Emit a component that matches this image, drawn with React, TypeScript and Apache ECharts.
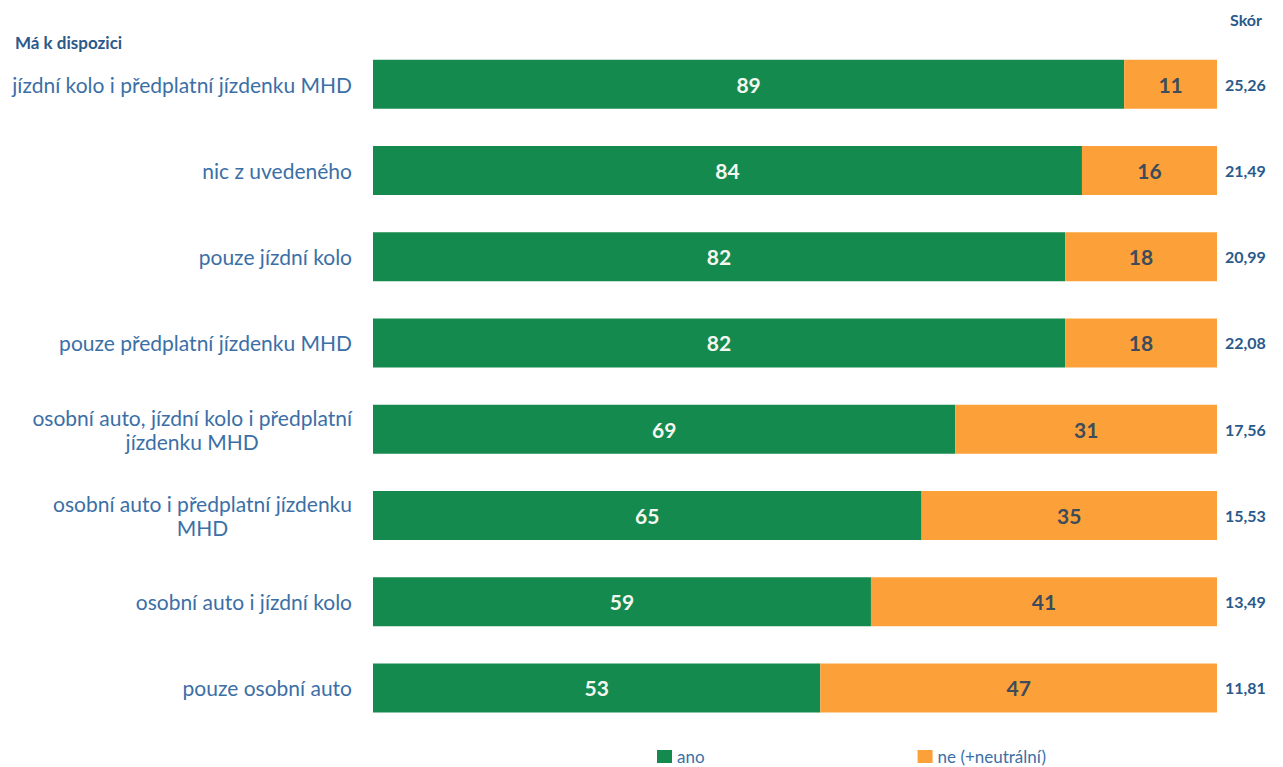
import React, { useEffect, useRef } from 'react';
import * as echarts from 'echarts';

const categories = [
  'jízdní kolo i předplatní jízdenku MHD',
  'nic z uvedeného',
  'pouze jízdní kolo',
  'pouze předplatní jízdenku MHD',
  'osobní auto, jízdní kolo i předplatní\njízdenku MHD',
  'osobní auto i předplatní jízdenku\nMHD',
  'osobní auto i jízdní kolo',
  'pouze osobní auto',
];
const anoValues = [89, 84, 82, 82, 69, 65, 59, 53];
const neValues = [11, 16, 18, 18, 31, 35, 41, 47];
const scoreLabels = ['25,26', '21,49', '20,99', '22,08', '17,56', '15,53', '13,49', '11,81'];
const seriesNames = ['ano', 'ne (+neutrální)'];
const headerLeft = 'Má k dispozici';
const headerRight = 'Skór';

const FONT = 'Lato, "Noto Sans", sans-serif';
const LABEL_SIZE = 21;
const LINE_HEIGHT = 24;
const LABEL_COLOR = '#3b6fa6';

function buildLabelRich() {
  const canvas = document.createElement('canvas');
  const ctx = canvas.getContext('2d')!;
  ctx.font = `${LABEL_SIZE}px Lato`;
  const rich: Record<string, any> = {
    t: { fontSize: LABEL_SIZE, color: LABEL_COLOR, fontFamily: FONT, lineHeight: LINE_HEIGHT },
  };
  const fmt: string[] = [];
  categories.forEach((c, idx) => {
    const lines = c.split('\n');
    if (lines.length === 1) {
      fmt.push(`{t|${c}}`);
      return;
    }
    const widths = lines.map((l) => ctx.measureText(l).width);
    const maxW = Math.max(...widths);
    const parts = lines.map((l, i) => {
      const key = `c${idx}l${i}`;
      rich[key] = {
        fontSize: LABEL_SIZE,
        color: LABEL_COLOR,
        fontFamily: FONT,
        lineHeight: LINE_HEIGHT,
        padding: [0, (maxW - widths[i]) / 2, 0, 0],
      };
      return `{${key}|${l}}`;
    });
    fmt.push(parts.join('\n'));
  });
  return { rich, fmt };
}

export default function App() {
  const ref = useRef<HTMLDivElement>(null);
  useEffect(() => {
    if (!ref.current) return;
    const chart = echarts.init(ref.current, null, { renderer: 'svg' });
    const { rich, fmt } = buildLabelRich();
    chart.setOption({
      animation: false,
      backgroundColor: '#ffffff',
      textStyle: { fontFamily: FONT },
      grid: { left: 373, right: 66, top: 41, height: 690, containLabel: false },
      legend: {
        data: seriesNames,
        left: 652,
        top: 743,
        itemGap: 213,
        itemWidth: 15,
        itemHeight: 13,
        icon: 'rect',
        textStyle: { fontSize: 17, color: LABEL_COLOR, fontFamily: FONT },
      },
      xAxis: { type: 'value', min: 0, max: 100, show: false },
      yAxis: [
        {
          type: 'category',
          data: categories,
          inverse: true,
          axisLine: { show: false },
          axisTick: { show: false },
          splitLine: { show: false },
          axisLabel: {
            margin: 21,
            formatter: (_v: string, i: number) => fmt[i],
            rich,
          },
        },
        {
          type: 'category',
          data: scoreLabels,
          inverse: true,
          position: 'right',
          axisLine: { show: false },
          axisTick: { show: false },
          splitLine: { show: false },
          axisLabel: {
            margin: 8,
            align: 'left',
            fontSize: 16,
            fontWeight: 'bold',
            color: '#2a5a8a',
            fontFamily: FONT,
          },
        },
      ],
      graphic: [
        {
          type: 'text',
          left: 15,
          top: 34,
          style: { text: headerLeft, fontSize: 17, fontWeight: 'bold', fill: '#2a5a8a', fontFamily: FONT },
        },
        {
          type: 'text',
          left: 1230,
          top: 11,
          style: { text: headerRight, fontSize: 16, fontWeight: 'bold', fill: '#2a5a8a', fontFamily: FONT },
        },
      ],
      series: [
        {
          name: seriesNames[0],
          type: 'bar',
          stack: 'total',
          yAxisIndex: 0,
          barWidth: 49,
          data: anoValues,
          itemStyle: { color: '#158a4e' },
          label: { show: true, position: 'inside', color: '#f4f7f0', fontSize: 21, fontWeight: 'bold', fontFamily: FONT },
        },
        {
          name: seriesNames[1],
          type: 'bar',
          stack: 'total',
          yAxisIndex: 0,
          barWidth: 49,
          data: neValues,
          itemStyle: { color: '#fca13a' },
          label: { show: true, position: 'inside', color: '#3d4b5a', fontSize: 21, fontWeight: 'bold', fontFamily: FONT },
        },
      ],
    });
    return () => chart.dispose();
  }, []);
  return <div ref={ref} style={{ position: 'absolute', left: 0, top: 0, width: 1283, height: 767 }} />;
}
